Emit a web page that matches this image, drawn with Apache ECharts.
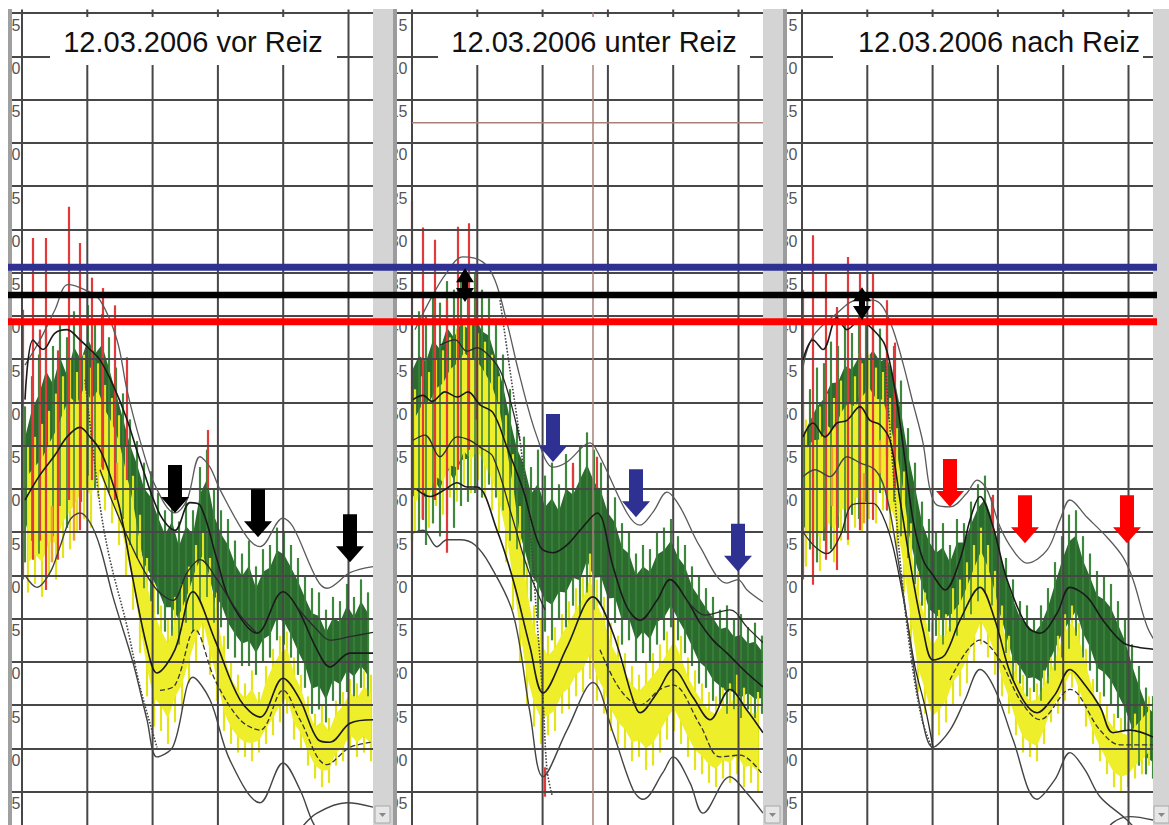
<!DOCTYPE html>
<html><head><meta charset="utf-8">
<script src="https://cdn.jsdelivr.net/npm/echarts@6/dist/echarts.min.js"></script>
<style>html,body{margin:0;padding:0;background:#fff;}#c{width:1169px;height:825px;}</style>
</head><body><div id="c"></div>
<script>
// ---------- axis / labels ----------
const yMin = 5, yMax = 100, yStep = 5;
const vGridX = [0, 65.3, 130.6, 195.9, 261.2, 326.5];
const panelTitles = ['12.03.2006 vor Reiz', '12.03.2006 unter Reiz', '12.03.2006 nach Reiz'];
const refLevels = [34.4, 37.6, 40.7]; // blue, black, red reference lines

// ---------- Panel 1 : vor Reiz ----------
const p1Green = [[3,50.5,68.5],[10,47.0,66.0],[17,44.5,67.5],[24,42.0,64.0],[31,43.5,65.5],[38,40.5,62.0],[45,42.5,64.5],[52,39.5,60.0],[59,41.0,61.5],[66,38.8,58.5],[73,40.5,60.0],[80,39.8,57.5],[87,42.5,60.5],[94,46.0,61.0],[101,49.0,63.5],[108,52.0,66.5],[115,54.5,68.0],[122,57.0,71.5],[129,58.0,73.0],[136,60.5,74.5],[143,62.5,76.5],[150,60.5,77.0],[157,63.8,78.0],[164,61.5,75.5],[171,62.5,76.5],[178,57.5,73.0],[185,55.5,72.5],[192,60.0,75.5],[199,62.5,76.0],[206,63.5,78.5],[213,66.0,79.5],[220,67.5,80.5],[227,66.0,80.5],[234,69.0,81.5],[241,67.0,80.0],[248,66.5,79.5],[255,64.5,77.5],[262,65.0,78.0],[269,66.5,79.5],[276,68.0,81.5],[283,70.0,83.0],[290,71.5,86.0],[297,72.0,85.5],[304,74.0,87.0],[311,72.5,84.5],[318,73.0,85.0],[325,71.0,83.5],[332,72.5,84.0],[339,70.5,83.0],[346,72.0,84.0]];
const p1Yellow = [[6,55.0,72.0],[13,54.0,71.0],[20,52.5,72.5],[27,51.0,70.0],[34,49.0,70.5],[41,47.0,68.0],[48,45.0,67.0],[55,46.5,65.0],[62,44.5,63.5],[69,46.0,64.5],[76,45.5,61.0],[83,48.0,62.5],[90,49.5,64.0],[97,51.5,66.5],[104,55.0,70.0],[111,58.5,74.0],[118,63.0,79.0],[125,68.0,84.0],[132,71.0,87.5],[139,73.5,88.0],[146,75.0,89.5],[153,72.5,87.0],[160,71.0,85.5],[167,69.0,82.5],[174,66.5,80.0],[181,65.0,78.0],[188,68.0,81.5],[195,72.0,84.5],[202,77.0,88.0],[209,80.0,89.5],[216,81.5,90.5],[223,82.5,91.0],[230,81.0,91.5],[237,83.5,90.5],[244,80.5,89.5],[251,78.5,88.5],[258,77.0,87.0],[265,76.5,86.0],[272,79.5,89.0],[279,81.5,90.0],[286,84.0,92.0],[293,86.0,93.5],[300,85.0,94.5],[307,86.5,94.0],[314,84.5,92.0],[321,83.5,91.5],[328,82.0,90.0],[335,82.5,91.0],[342,81.0,90.5],[349,81.5,91.5]];
const p1Red = [[1,39.3,70.5],[11,31.0,68.2],[18,41.6,66.0],[24,31.0,71.7],[36,44.0,68.2],[47,27.4,61.3],[58,31.6,64.8],[70,35.6,59.0],[81,36.8,57.8],[93,38.8,61.3],[105,44.8,59.0],[186,53.2,60.1]];
const p1Orange = [[30,62.0,68.5],[52,60.0,66.0],[95,57.0,61.0]];
const p1C1 = [[3,45.7],[18,42.8],[33,39.3],[46,36.4],[63,37.0],[78,38.2],[95,42.8],[105,48.6],[118,54.4],[133,59.6],[153,62.8],[165,61.3],[178,56.3],[188,57.5],[198,60.1],[225,65.6],[238,66.7],[261,63.4],[271,64.4],[295,70.5],[305,71.5],[328,69.7],[351,69.0]];
const p1G1 = [[3,49.7],[11,42.8],[21,43.9],[33,42.0],[45,41.6],[58,42.8],[68,43.9],[78,45.1],[91,48.0],[105,52.0],[118,56.7],[138,63.0],[153,64.8],[168,61.6],[178,61.9],[195,68.2],[208,72.9],[235,76.7],[261,71.9],[275,73.7],[295,78.6],[308,80.6],[328,79.0],[351,79.0]];
const p1C3 = [[78,57.8],[95,62.8],[118,68.6],[135,71.7],[151,72.9],[165,69.7],[178,68.2],[195,70.5],[218,74.6],[235,76.7]];
const p1G2 = [[275,73.7],[295,76.3],[308,77.5],[328,77.1],[351,76.6]];
const p1Y1 = [[3,61.3],[18,58.4],[33,56.1],[45,54.0],[58,52.9],[68,54.0],[78,55.5],[88,58.4],[98,62.4],[111,70.5],[125,78.3],[135,81.3],[153,78.6],[171,71.9],[193,77.5],[218,84.4],[238,86.4],[261,81.9],[278,84.4],[296,89.0],[308,89.3],[328,87.1],[351,86.7]];
const p1Y2 = [[138,83.3],[153,82.7],[173,76.3],[193,82.1],[218,86.7],[238,87.9],[261,83.3],[278,86.7],[305,91.9],[328,89.9],[351,89.3]];
const p1L1 = [[3,70.0],[15,71.4],[28,69.7],[38,66.7],[48,63.6],[58,62.8],[68,63.9],[78,66.7],[91,72.5],[111,80.1],[125,86.7],[135,91.0],[151,89.8],[171,81.8],[188,84.4],[208,91.4],[238,96.3],[261,91.7],[278,94.8],[291,98.6],[308,101.7]];
const p1L2 = [[278,99.4],[295,97.5],[325,96.3],[351,96.8]];
const p1D1 = [[63,47.4],[78,61.9],[88,68.2],[105,75.9],[118,82.9],[135,89.9]];
const p1Arrows = [[153,62.8],[236,65.6],[328,68.5]];

// ---------- Panel 2 : unter Reiz ----------
const p2Green = [[0,41.5,66.0],[7,39.5,65.0],[14,40.0,66.5],[21,37.5,64.0],[28,38.5,65.5],[35,36.0,63.0],[42,37.0,64.5],[49,35.5,62.0],[56,36.5,61.5],[63,35.0,60.5],[70,37.0,61.0],[77,38.0,59.5],[84,41.0,61.0],[91,44.5,62.5],[98,48.5,66.0],[105,52.5,67.0],[112,54.0,70.0],[119,57.5,73.0],[126,55.5,75.0],[133,58.5,76.5],[140,57.0,77.5],[147,59.5,75.0],[154,56.0,76.0],[161,57.5,73.5],[168,55.0,74.5],[175,53.5,72.0],[182,55.5,74.0],[189,57.0,73.5],[196,59.5,76.0],[203,61.0,75.5],[210,64.0,78.0],[217,65.0,77.5],[224,67.5,80.0],[231,66.5,79.0],[238,67.0,80.0],[245,65.0,78.0],[252,64.5,77.5],[259,63.5,76.0],[266,65.5,77.5],[273,66.5,79.0],[280,69.0,80.5],[287,70.0,82.5],[294,71.5,83.0],[301,72.5,84.5],[308,74.0,85.0],[315,73.5,86.0],[322,75.0,85.5],[329,74.5,86.5],[336,76.0,85.5],[343,75.5,86.5],[350,77.0,86.0]];
const p2Yellow = [[3,48.5,65.0],[10,47.0,63.5],[17,46.5,64.5],[24,45.0,62.0],[31,44.0,63.0],[38,42.5,61.0],[45,41.5,61.5],[52,40.5,59.5],[59,41.0,60.5],[66,42.0,59.0],[73,43.0,61.0],[80,44.5,62.5],[87,47.0,65.0],[94,51.5,68.5],[101,56.0,74.0],[108,62.0,80.0],[115,68.5,85.0],[122,73.5,87.5],[129,75.0,89.5],[136,77.0,88.5],[143,76.0,88.0],[150,74.5,86.0],[157,73.0,85.5],[164,71.5,84.0],[171,70.0,83.5],[178,67.5,82.0],[185,70.5,84.5],[192,72.5,86.0],[199,75.5,88.0],[206,77.0,89.5],[213,79.0,90.0],[220,80.5,91.5],[227,81.5,91.0],[234,80.0,92.5],[241,79.0,92.0],[248,78.0,90.5],[255,76.5,89.0],[262,75.0,88.0],[269,77.0,89.5],[276,79.5,91.0],[283,81.0,92.5],[290,82.5,93.0],[297,83.5,94.0],[304,84.0,94.5],[311,83.0,93.5],[318,82.5,94.0],[325,81.5,93.0],[332,83.0,94.5],[339,84.0,94.0],[346,83.5,95.0]];
const p2Red = [[0,26.7,68.2],[11,29.8,63.6],[23,31.2,61.3],[35,38.2,67.4],[46,29.7,57.8],[57,29.3,55.5],[64,34.7,52.0],[133,92.2,95.6],[161,57.0,59.8],[185,56.3,60.1]];
const p2C1 = [[3,41.6],[18,38.2],[33,35.3],[51,33.2],[71,33.8],[83,35.9],[95,40.8],[108,47.1],[125,54.0],[141,57.5],[155,56.9],[178,54.7],[188,56.3],[215,62.8],[228,64.2],[241,62.7],[255,60.4],[268,62.1],[288,66.7],[315,70.9],[326,70.5],[335,71.7],[351,73.1]];
const p2G1 = [[1,49.7],[11,49.2],[20,49.9],[33,48.8],[45,49.4],[56,48.8],[68,50.3],[81,51.2],[95,55.2],[111,60.1],[128,66.7],[141,67.4],[155,66.5],[168,64.8],[185,62.8],[201,69.0],[215,73.7],[228,75.2],[245,72.9],[258,70.5],[275,72.9],[288,75.5],[301,77.5],[315,79.0],[335,81.3],[351,82.9]];
const p2Gb = [[275,72.9],[293,74.6],[318,74.0],[335,76.0],[351,77.8]];
const p2K2 = [[1,54.4],[13,53.8],[28,56.3],[45,54.0],[58,54.4],[68,55.2],[81,56.3],[101,63.6],[115,69.0],[133,74.0]];
const p2K5 = [[28,43.4],[43,42.8],[55,44.1],[65,43.7],[75,44.4],[88,46.3],[98,49.7],[108,54.4]];
const p2Y1 = [[5,60.1],[18,60.9],[33,60.1],[45,59.3],[55,59.8],[65,59.8],[85,64.8],[101,70.5],[118,78.3],[131,83.6],[155,78.3],[181,72.5],[201,76.7],[221,84.4],[228,85.9],[245,83.6],[261,80.9],[281,84.1],[298,86.7],[318,83.2],[335,85.6],[351,88.2]];
const p2Y2 = [[188,78.6],[208,83.2],[228,85.0],[248,83.2],[261,82.7],[288,87.3],[308,91.0],[328,90.8],[351,93.1]];
const p2L1 = [[1,65.1],[11,64.8],[25,66.7],[35,65.9],[48,65.9],[63,66.5],[78,68.8],[101,74.4],[118,85.9],[131,93.3],[155,87.9],[181,82.4],[201,88.2],[221,94.8],[231,95.9],[251,92.8],[261,91.0],[278,94.0],[291,97.5],[318,93.3],[335,95.2],[351,97.5]];
const p2D1 = [[88,38.2],[98,46.3],[108,54.4],[118,64.8],[125,75.2],[131,84.4],[135,92.5],[140,95.4]];
const p2Arrows = [[141,56.9],[224,63.3],[326,69.6]];
const p2Double = [[53,34.5,38.4]];
const p2CursorX = 181, p2CursorY = 17.7;

// ---------- Panel 3 : nach Reiz ----------
const p3Green = [[1,50.0,68.5],[8,48.5,67.0],[15,46.0,68.5],[22,45.5,66.0],[29,43.0,67.0],[36,43.5,64.5],[43,41.0,65.0],[50,42.0,63.0],[57,40.0,63.5],[64,41.0,61.5],[71,39.5,62.0],[78,41.5,60.5],[85,40.5,62.5],[92,43.5,61.5],[99,47.5,65.5],[106,53.0,68.0],[113,57.0,71.0],[120,61.5,73.5],[127,63.5,76.5],[134,65.0,77.0],[141,64.0,78.0],[148,66.5,76.5],[155,63.5,77.0],[162,64.0,75.0],[169,61.5,74.5],[176,59.5,73.0],[183,58.5,72.0],[190,61.0,73.5],[197,64.5,76.5],[204,68.0,79.0],[211,70.5,82.0],[218,73.0,82.5],[225,73.5,84.0],[232,75.0,83.5],[239,73.5,84.5],[246,71.5,82.5],[253,68.5,81.0],[260,65.5,79.5],[267,63.0,78.5],[274,62.5,77.0],[281,65.5,79.5],[288,67.5,81.0],[295,69.5,83.5],[302,70.0,84.0],[309,71.0,85.0],[316,73.0,86.5],[323,75.0,88.0],[330,78.0,90.0],[337,80.5,92.0],[344,83.0,93.0],[351,84.0,93.5]];
const p3Yellow = [[4,52.0,69.0],[11,51.0,68.0],[18,50.5,69.5],[25,49.0,67.5],[32,49.5,68.5],[39,47.5,66.0],[46,46.0,66.5],[53,47.0,64.5],[60,45.5,65.0],[67,44.5,63.5],[74,46.0,64.0],[81,46.5,62.5],[88,49.5,65.0],[95,53.0,67.0],[102,58.0,72.0],[109,64.0,78.0],[116,69.5,83.5],[123,72.0,86.0],[130,75.5,89.0],[137,74.0,88.5],[144,74.5,87.0],[151,71.5,85.0],[158,70.5,84.0],[165,68.5,82.5],[172,66.5,80.0],[179,64.5,78.0],[186,66.5,79.5],[193,69.5,81.5],[200,73.5,84.0],[207,77.0,86.0],[214,80.0,88.5],[221,81.5,90.5],[228,83.0,91.0],[235,82.5,91.5],[242,81.0,89.5],[249,79.5,87.0],[256,77.0,86.0],[263,74.5,84.5],[270,73.5,83.0],[277,75.5,85.0],[284,78.5,87.5],[291,82.0,89.5],[298,83.5,91.5],[305,85.0,93.0],[312,86.0,94.5],[319,86.5,95.0],[326,87.0,94.5],[333,86.0,93.5],[340,85.0,93.0],[347,84.0,92.0]];
const p3Red = [[1,37.0,70.5],[11,30.7,71.1],[24,35.1,68.2],[35,39.0,69.4],[46,33.2,65.9],[58,35.1,64.8],[71,35.1,63.6],[85,38.2,62.4],[93,43.1,60.1],[191,60.7,64.8]];
const p3Orange = [[58,44.3,49.4],[85,50.5,56.3],[78,54.4,58.2],[62,58.2,64.0],[30,55.0,62.0]];
const p3C1 = [[1,45.9],[11,42.4],[35,39.7],[55,38.2],[71,38.2],[81,39.0],[91,41.6],[101,45.5],[111,50.1],[121,54.7],[128,60.1],[135,61.9],[148,62.1],[165,60.5],[175,59.0],[185,60.1],[198,64.4],[211,67.1],[225,68.6],[245,67.1],[258,63.6],[268,61.3],[285,63.3],[305,65.6],[321,67.9],[331,70.5],[345,75.9],[355,78.0]];
const p3G1 = [[1,45.1],[11,42.8],[21,43.9],[35,40.2],[45,41.6],[58,40.5],[71,41.6],[83,43.4],[93,48.6],[103,56.7],[111,63.6],[121,68.2],[131,70.0],[143,71.7],[158,68.2],[168,63.6],[178,60.9],[191,64.4],[205,70.5],[225,75.9],[238,76.7],[255,74.4],[268,71.4],[285,72.5],[301,75.2],[321,77.8],[335,78.3],[355,78.6]];
const p3Y1 = [[1,54.0],[11,52.4],[23,54.0],[35,52.4],[45,52.1],[58,50.5],[68,52.1],[78,52.6],[88,54.4],[98,61.3],[111,70.5],[121,76.3],[131,79.8],[143,79.2],[158,75.2],[178,71.4],[193,75.2],[211,82.1],[235,85.9],[253,83.8],[268,80.9],[283,82.7],[298,85.2],[311,88.2],[328,87.9],[351,88.7]];
const p3Y2 = [[148,82.1],[178,77.5],[198,79.8],[218,84.4],[238,86.7],[268,83.2],[298,87.9],[318,89.6],[351,89.6]];
const p3L1 = [[1,58.6],[13,57.8],[28,58.6],[45,56.3],[58,57.0],[73,57.8],[83,60.1],[93,65.9],[108,77.5],[118,85.2],[131,89.9],[148,87.9],[163,84.4],[178,80.9],[193,83.2],[211,89.0],[235,95.9],[253,93.6],[268,90.5],[283,92.5],[298,95.6],[325,98.3],[343,100.6]];
const p3K4 = [[1,65.0],[13,66.7],[25,67.5],[38,65.5],[48,62.1],[58,61.7],[71,61.7],[81,63.2],[91,66.7],[103,73.7],[113,80.6],[123,85.2],[131,89.9]];
const p3D1 = [[83,45.1],[91,57.8],[98,68.2],[108,78.6],[120,86.7],[131,90.2]];
const p3L2 = [[298,100.6],[311,98.6],[328,97.9],[351,98.3]];
const p3Arrows = [[148,62.1],[223,66.3],[325,66.3]];
const p3Double = [[60,36.7,40.5]];

// ---------- build ----------
const TOP = 13, H = 821.75;
const STY = {
  grey:  {color:'#5a5a5a', width:1.3, type:'solid'},
  dot:   {color:'#444', width:1.6, type:'dotted'},
  black: {color:'#1a1a1a', width:1.6, type:'solid'},
  thin:  {color:'#2a2a2a', width:1.3, type:'solid'},
  dash:  {color:'#333', width:1.3, type:'dashed'},
  low:   {color:'#444', width:1.4, type:'solid'}
};
const panels = [
  {left:12, width:361, xMin:-10, label:8.5, title:{x0:50,x1:337,cx:193}, green:p1Green, yellow:p1Yellow, red:p1Red, orange:p1Orange,
   curves:[[p1C1,'grey'],[p1D1,'dot'],[p1G1,'black'],[p1C3,'thin'],[p1G2,'thin'],[p1Y1,'black'],[p1Y2,'dash'],[p1L1,'low'],[p1L2,'low']],
   arrows:p1Arrows, arrowColor:'#000', dbl:[]},
  {left:397, width:366, xMin:-15, label:10.5, title:{x0:438,x1:750,cx:594}, green:p2Green, yellow:p2Yellow, red:p2Red, orange:[],
   curves:[[p2C1,'grey'],[p2D1,'dot'],[p2K5,'thin'],[p2G1,'black'],[p2Gb,'thin'],[p2K2,'thin'],[p2Y1,'black'],[p2Y2,'dash'],[p2L1,'low']],
   arrows:p2Arrows, arrowColor:'#2e3192', dbl:p2Double},
  {left:787, width:366, xMin:-15, label:10.5, title:{x0:833,x1:1143,cx:999}, green:p3Green, yellow:p3Yellow, red:p3Red, orange:p3Orange,
   curves:[[p3C1,'grey'],[p3D1,'dot'],[p3G1,'black'],[p3Y1,'black'],[p3Y2,'dash'],[p3K4,'thin'],[p3L1,'low'],[p3L2,'low']],
   arrows:p3Arrows, arrowColor:'#ff0000', dbl:p3Double}
];

const grids = [], xAxes = [], yAxes = [], series = [];
// each noise sample drawn as a thin vertical spike from its top to its bottom value
function strokes(gi, data, color, width, z){
  return {type:'custom', xAxisIndex:gi, yAxisIndex:gi, z, silent:true, clip:true, data, encode:{x:0,y:[1,2]},
    renderItem:(p, api)=>{
      const a = api.coord([api.value(0), api.value(1)]);
      const b = api.coord([api.value(0), api.value(2)]);
      return {type:'line', shape:{x1:a[0],y1:a[1],x2:b[0],y2:b[1]}, style:{stroke:color, lineWidth:width}};
    }};
}
// dense core of the noisy trace: inner part of each sample's range, joined into one polygon
function band(gi, data, color, z, inset){
  return {type:'custom', xAxisIndex:gi, yAxisIndex:gi, z, silent:true, clip:true, data:[[data[0][0], data[0][1]]],
    renderItem:(p, api)=>{
      const up = data.map(d=>api.coord([d[0], d[1] + (d[2]-d[1])*inset]));
      const dn = data.slice().reverse().map(d=>api.coord([d[0], d[2] - (d[2]-d[1])*inset]));
      return {type:'polygon', shape:{points:up.concat(dn)}, style:{fill:color}};
    }};
}
panels.forEach((P, gi)=>{
  grids.push({left:P.left, top:TOP, width:P.width, height:H, containLabel:false, outerBoundsMode:'none'});
  xAxes.push({type:'value', gridIndex:gi, min:P.xMin, max:351, show:false});
  yAxes.push({type:'value', gridIndex:gi, min:yMin, max:yMax, interval:yStep, inverse:true, z:5.5,
    axisLine:{show:false}, axisTick:{show:false},
    axisLabel:{inside:true, align:'right', verticalAlign:'top', margin:P.label, padding:[4,0,0,0], showMaxLabel:false,
      fontSize:16, color:'#555', fontFamily:"'Liberation Sans Narrow','Liberation Sans',sans-serif"},
    splitLine:{show:true, lineStyle:{color:'#474747', width:2}}});
  series.push({type:'custom', xAxisIndex:gi, yAxisIndex:gi, z:5.5, silent:true, data:vGridX.map(v=>[v]),
    renderItem:(p, api)=>{
      const a = api.coord([api.value(0), 4.6]); const b = api.coord([api.value(0), yMax]);
      return {type:'line', shape:{x1:a[0],y1:a[1],x2:b[0],y2:b[1]}, style:{stroke:'#474747', lineWidth:2}};
    }});
  series.push(strokes(gi, P.green, '#4f9a4a', 2.2, 2.8));
  series.push(band(gi, P.green, '#2b6c2e', 3, 0.2));
  series.push(strokes(gi, P.yellow, '#e4e41a', 2.2, 3.2));
  series.push(band(gi, P.yellow, '#eeee2a', 3.3, 0.2));
  series.push(strokes(gi, P.green, '#3a843b', 1.6, 3.8));
  if (P.orange.length) series.push(strokes(gi, P.orange, '#f0a030', 2.5, 4.5));
  series.push(strokes(gi, P.red, '#e23a3a', 2.2, 5));
  P.curves.forEach(([d, s])=>{
    series.push({type:'line', xAxisIndex:gi, yAxisIndex:gi, data:d, smooth:0.35, symbol:'none', z:6, silent:true,
      lineStyle:{color:STY[s].color, width:STY[s].width, type:STY[s].type}});
  });
  series.push({type:'custom', xAxisIndex:gi, yAxisIndex:gi, z:8, silent:true, data:P.arrows,
    renderItem:(p, api)=>{
      const t = api.coord([api.value(0), api.value(1)]); const x=t[0], y=t[1];
      return {type:'polygon', shape:{points:[[x,y],[x-14,y-16],[x-7,y-16],[x-7,y-48],[x+7,y-48],[x+7,y-16],[x+14,y-16]]}, style:{fill:P.arrowColor}};
    }});
  if (P.dbl.length) series.push({type:'custom', xAxisIndex:gi, yAxisIndex:gi, z:25, silent:true, data:P.dbl,
    renderItem:(p, api)=>{
      const a = api.coord([api.value(0), api.value(1)]); const b = api.coord([api.value(0), api.value(2)]);
      const x=a[0], y1=a[1], y2=b[1];
      return {type:'polygon', shape:{points:[[x,y1],[x+9,y1+14],[x+3,y1+14],[x+3,y2-14],[x+9,y2-14],[x,y2],[x-9,y2-14],[x-3,y2-14],[x-3,y1+14],[x-9,y1+14]]}, style:{fill:'#000'}};
    }});
});
series.push({type:'line', xAxisIndex:1, yAxisIndex:1, data:[[p2CursorX,4.6],[p2CursorX,yMax]], symbol:'none', z:5.6, silent:true, lineStyle:{color:'#a88078', width:1.5}});
series.push({type:'line', xAxisIndex:1, yAxisIndex:1, data:[[0,p2CursorY],[351,p2CursorY]], symbol:'none', z:5.6, silent:true, lineStyle:{color:'#a88078', width:1.5}});

grids.push({left:8, top:TOP, width:1149, height:H, outerBoundsMode:'none'});
xAxes.push({type:'value', gridIndex:3, min:0, max:1, show:false});
yAxes.push({type:'value', gridIndex:3, min:yMin, max:yMax, inverse:true, show:false});
const refColors = ['#2e3192', '#000000', '#ff0000'];
const refWidths = [7, 6.5, 7];
refLevels.forEach((v, i)=>{
  series.push({type:'line', xAxisIndex:3, yAxisIndex:3, data:[[0,v],[1,v]], symbol:'none', z:20, silent:true,
    lineStyle:{color:refColors[i], width:refWidths[i]}});
});

const G = [];
G.push({type:'rect', shape:{x:0,y:0,width:8,height:825}, style:{fill:'#fff'}, z:10});
G.push({type:'rect', shape:{x:8,y:9,width:4,height:816}, style:{fill:'#a0a0a0'}, z:10});
[[373,393],[763,783]].forEach(([a,b])=>{
  G.push({type:'rect', shape:{x:a,y:9,width:b-a,height:816}, style:{fill:'#d4d4d4'}, z:10});
  G.push({type:'rect', shape:{x:b,y:9,width:4,height:816}, style:{fill:'#9c9c9c'}, z:10});
});
G.push({type:'rect', shape:{x:1153,y:9,width:16,height:816}, style:{fill:'#d4d4d4'}, z:10});
[[375,806],[765,806],[1154,806]].forEach(([x,y])=>{
  G.push({type:'rect', shape:{x:x,y:y,width:15,height:17}, style:{fill:'#e6e6e6', stroke:'#a8a8a8', lineWidth:1}, z:11});
  G.push({type:'polygon', shape:{points:[[x+4,y+7],[x+11,y+7],[x+7.5,y+11]]}, style:{fill:'#888'}, z:12});
});
panels.forEach((P, i)=>{
  G.push({type:'rect', shape:{x:P.title.x0, y:17, width:P.title.x1-P.title.x0, height:48}, style:{fill:'#fff'}, z:10});
  G.push({type:'text', x:P.title.cx, y:42, z:11, style:{text:panelTitles[i], fill:'#111',
    font:"29px 'Liberation Sans', Arial, sans-serif", align:'center', verticalAlign:'middle', textAlign:'center', textVerticalAlign:'middle'}});
});

const chart = echarts.init(document.getElementById('c'), null, {renderer:'svg', width:1169, height:825});
chart.setOption({animation:false, backgroundColor:'#fff', grid:grids, xAxis:xAxes, yAxis:yAxes, series, graphic:{elements:G}});
</script></body></html>
